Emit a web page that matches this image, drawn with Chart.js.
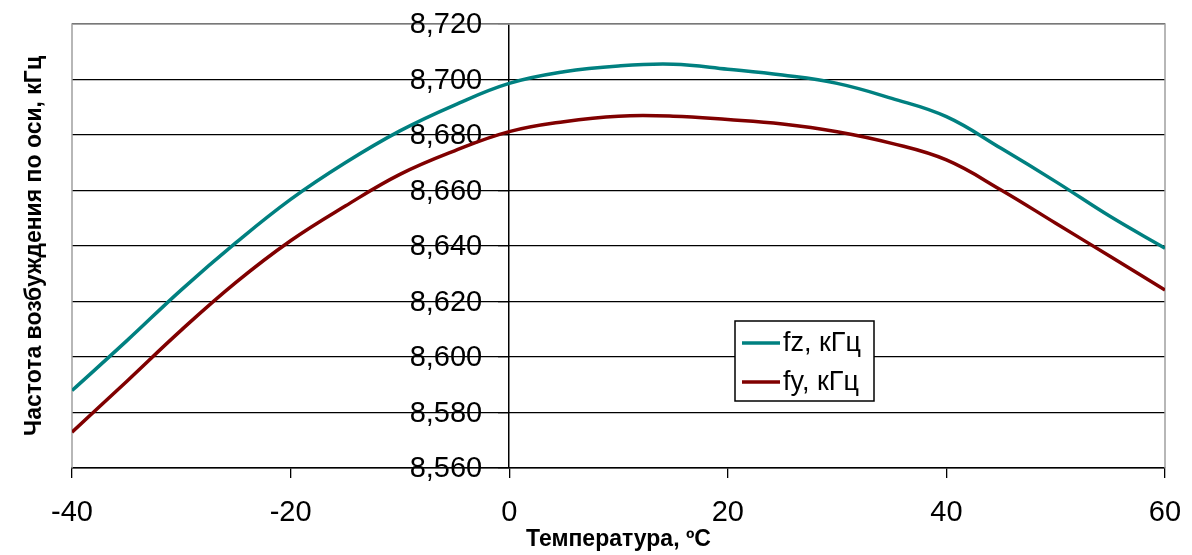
<!DOCTYPE html>
<html>
<head>
<meta charset="utf-8">
<script src="https://cdn.jsdelivr.net/npm/chart.js@4.4.1/dist/chart.umd.min.js"></script>
<style>
  html, body { margin: 0; padding: 0; background: #fff; }
  #wrap { width: 1192px; height: 555px; }
</style>
</head>
<body>
<div id="wrap"><canvas id="chart-freq"></canvas></div>
<script>
// temperature, degC
var temps = [-40, -35, -30, -25, -20, -15, -10, -5, 0, 5, 10, 15, 20, 25, 30, 35, 40, 45, 50, 55, 60];
// excitation frequency along z, kHz
var fz = [8.5879, 8.6058, 8.6242, 8.6412, 8.6568, 8.6700, 8.6815, 8.6908, 8.6986, 8.7028, 8.7049,
          8.7055, 8.7037, 8.7016, 8.6986, 8.6932, 8.6866, 8.6752, 8.6632, 8.6506, 8.6392];
// excitation frequency along y, kHz
var fy = [8.5729, 8.5912, 8.6097, 8.6269, 8.6419, 8.6544, 8.6658, 8.6743, 8.6812, 8.6848, 8.6868,
          8.6868, 8.6856, 8.6840, 8.6812, 8.6770, 8.6710, 8.6602, 8.6482, 8.6362, 8.6241];
var seriesNames = ['fz, кГц', 'fy, кГц'];
var xTitle = 'Температура, ºС';
var yTitle = 'Частота возбуждения по оси, кГц';

var font = '"Liberation Sans", Arial, sans-serif';

function points(ys) {
    return temps.map(function (t, i) { return {x: t, y: ys[i]}; });
}

function fmt(v) {
    return v.toFixed(3).replace('.', ',');
}

// grey frame round the plot area
var frame = {
    id: 'frame',
    beforeDatasetsDraw: function (chart) {
        var a = chart.chartArea, ctx = chart.ctx;
        ctx.save();
        ctx.strokeStyle = '#a0a0a0';
        ctx.lineWidth = 1.5;
        ctx.beginPath();
        ctx.moveTo(a.left, a.bottom);
        ctx.lineTo(a.left, a.top);
        ctx.lineTo(a.right, a.top);
        ctx.lineTo(a.right, a.bottom);
        ctx.stroke();
        ctx.restore();
    }
};

// y tick labels sit left of the axis that crosses at 0 degC
var yLabels = {
    id: 'yLabels',
    beforeDatasetsDraw: function (chart) {
        var ctx = chart.ctx, ys = chart.scales.y;
        var x0 = chart.scales.x.getPixelForValue(0);
        ctx.save();
        ctx.font = '29px ' + font;
        ctx.fillStyle = '#000';
        ctx.textAlign = 'right';
        ctx.textBaseline = 'middle';
        ys.ticks.forEach(function (t) {
            ctx.fillText(fmt(t.value), x0 - 27, ys.getPixelForValue(t.value) + 1);
        });
        ctx.restore();
    }
};

// boxed legend inside the plot
var legendBox = {
    id: 'legendBox',
    afterDatasetsDraw: function (chart) {
        var ctx = chart.ctx;
        var x = 735, y = 321, w = 139, h = 80;
        ctx.save();
        ctx.fillStyle = '#fff';
        ctx.fillRect(x, y, w, h);
        ctx.strokeStyle = '#000';
        ctx.lineWidth = 1.5;
        ctx.strokeRect(x, y, w, h);
        ctx.font = '27px ' + font;
        ctx.textBaseline = 'middle';
        chart.data.datasets.forEach(function (ds, i) {
            var ly = y + 22 + i * 39;
            ctx.strokeStyle = ds.borderColor;
            ctx.lineWidth = 3.5;
            ctx.beginPath();
            ctx.moveTo(x + 7, ly);
            ctx.lineTo(x + 45, ly);
            ctx.stroke();
            ctx.fillStyle = '#000';
            ctx.fillText(ds.label, x + 48, ly + 1);
        });
        ctx.restore();
    }
};

var chartFreq = new Chart(document.getElementById('chart-freq'), {
    type: 'line',
    data: {
        datasets: [{
            label: seriesNames[0],
            data: points(fz),
            borderColor: '#008080',
            borderWidth: 3.5,
            pointRadius: 0,
            tension: 0.4
        }, {
            label: seriesNames[1],
            data: points(fy),
            borderColor: '#800000',
            borderWidth: 3.5,
            pointRadius: 0,
            tension: 0.4
        }]
    },
    options: {
        responsive: true,
        maintainAspectRatio: false,
        animation: false,
        layout: {
            padding: {top: 24, right: 27, bottom: 0, left: 0}
        },
        plugins: {
            legend: {display: false},
            tooltip: {enabled: false}
        },
        scales: {
            x: {
                type: 'linear',
                position: 'bottom',
                min: -40,
                max: 60,
                afterFit: function (s) {
                    s.height = 87;
                    s.paddingRight = 0;
                },
                ticks: {
                    stepSize: 20,
                    color: '#000',
                    padding: 20,
                    font: {family: font, size: 29, lineHeight: 1}
                },
                grid: {
                    drawOnChartArea: false,
                    drawTicks: true,
                    tickLength: 10,
                    color: '#000',
                    lineWidth: 1.3
                },
                border: {color: '#000', width: 1.5},
                title: {
                    display: true,
                    text: xTitle,
                    color: '#000',
                    padding: {top: 0, bottom: 2.8},
                    font: {family: font, size: 23, weight: 'bold', lineHeight: 1.1}
                }
            },
            y: {
                type: 'linear',
                position: {x: 0},
                min: 8.56,
                max: 8.72,
                ticks: {
                    stepSize: 0.02,
                    display: false
                },
                grid: {
                    color: '#000',
                    lineWidth: 1.3,
                    drawTicks: true,
                    tickLength: 10
                },
                border: {color: '#000', width: 1.5}
            },
            yTitle: {
                type: 'linear',
                position: 'left',
                min: 0,
                max: 1,
                afterFit: function (s) { s.width = 72; },
                ticks: {display: false},
                grid: {display: false, drawTicks: false},
                border: {display: false},
                title: {
                    display: true,
                    text: yTitle,
                    color: '#000',
                    padding: {top: 22, bottom: 24},
                    font: {family: font, size: 23, weight: 'bold', lineHeight: 1.1}
                }
            }
        }
    },
    plugins: [frame, yLabels, legendBox]
});
</script>
</body>
</html>
